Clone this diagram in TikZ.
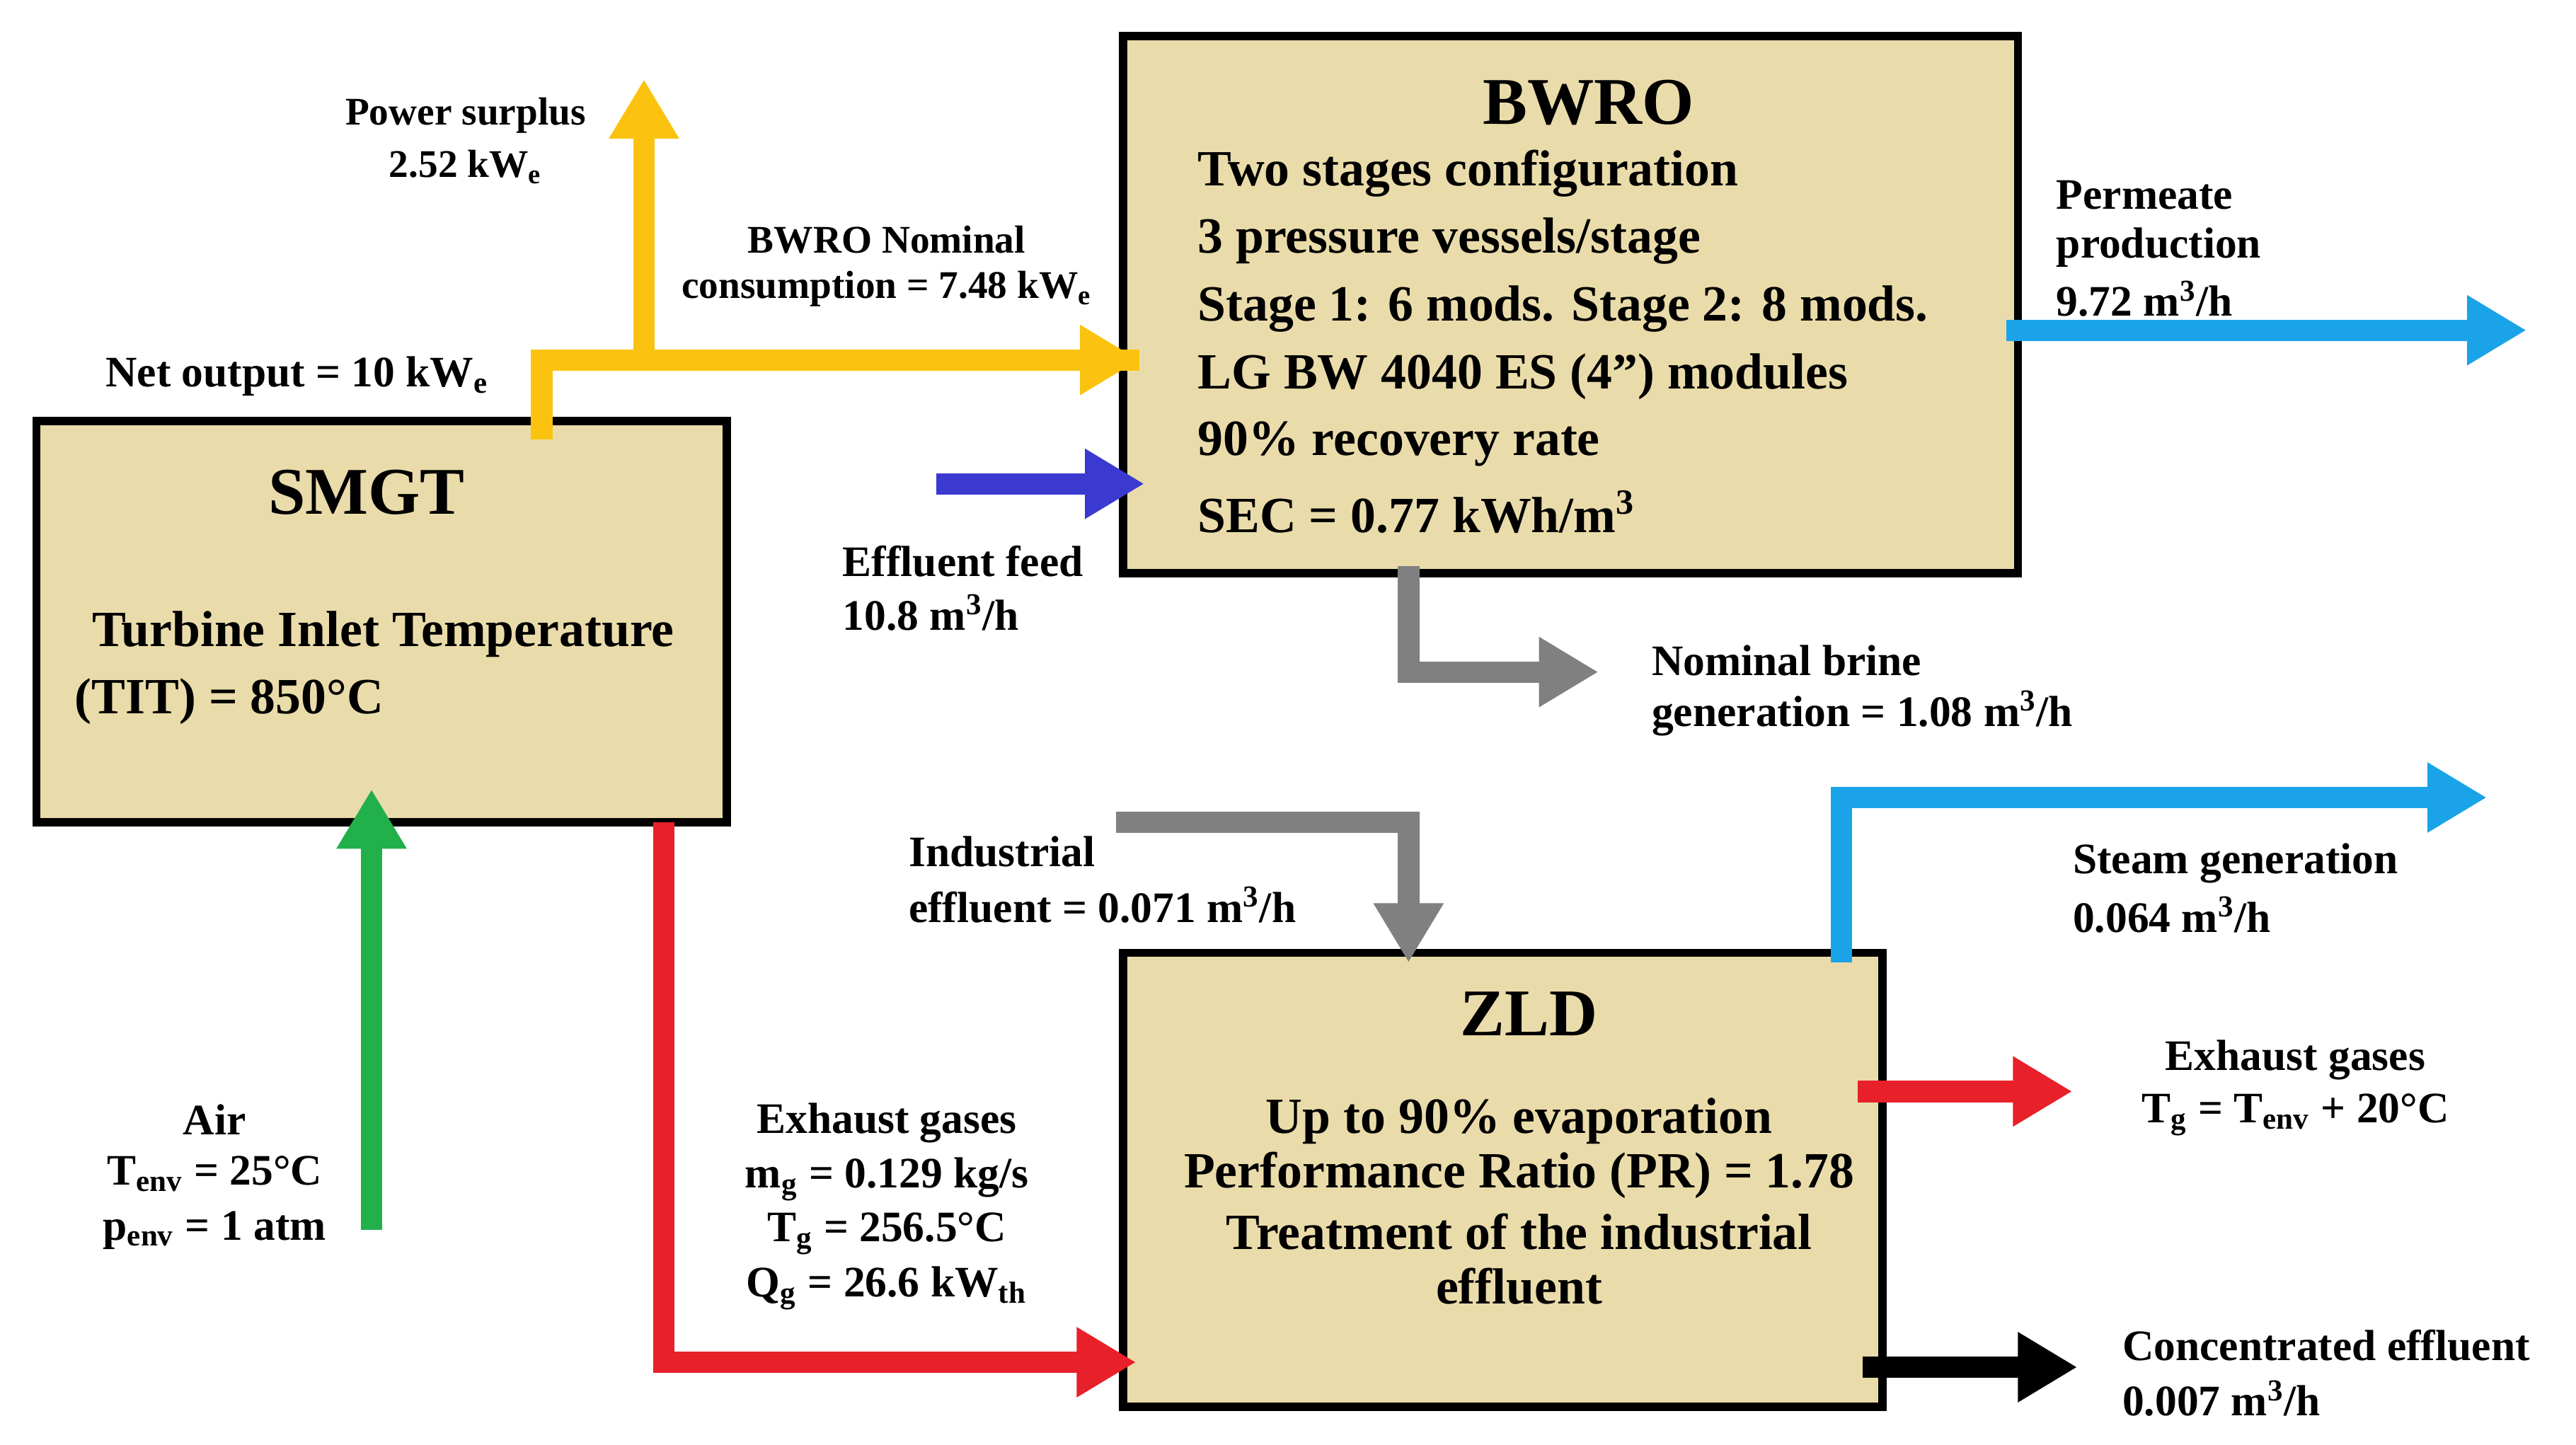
\documentclass[tikz,border=0pt]{standalone}
\usepackage{fontspec}
\setmainfont{Liberation Serif}
\usetikzlibrary{arrows.meta}
\definecolor{boxf}{HTML}{EADCAA}
\definecolor{yel}{HTML}{FBC30F}
\definecolor{rd}{HTML}{E8202A}
\definecolor{gr}{HTML}{22B04B}
\definecolor{bl}{HTML}{3A3AD0}
\definecolor{gy}{HTML}{808080}
\definecolor{lb}{HTML}{1AA3E8}
\begin{document}
\begin{tikzpicture}[x=0.02cm,y=-0.02cm,
  box/.style={draw=black,line width=0.1cm,fill=boxf},
  flow/.style={line width=0.26cm,line join=miter,-{Triangle[length=0.72cm,width=0.8cm]}},
  lab/.style={font=\bfseries\fontsize{15}{18}\selectfont,inner sep=0pt},
  sml/.style={font=\bfseries\fontsize{13.5}{16}\selectfont,inner sep=0pt},
  btx/.style={font=\bfseries\fontsize{17.5}{21}\selectfont,inner sep=0pt},
  ttl/.style={font=\bfseries\fontsize{23}{27}\selectfont,inner sep=0pt}]
\useasboundingbox (0,0) rectangle (1560,875);
% boxes
\draw[box] (22,255) rectangle (440,498);
\draw[box] (680,22) rectangle (1222,347);
\draw[box] (680,577) rectangle (1140,852);
\node[ttl] (smgt) at (222,298) {SMGT};
\node[btx] at (232,384) {Turbine Inlet Temperature};
\node[btx,anchor=west] at (45,425) {(TIT) = 850°C};
\node[ttl] (bwro) at (962,62) {BWRO};
\foreach \t [count=\i] in {Two stages configuration,3 pressure vessels/stage,Stage 1: 6 mods. Stage 2: 8 mods.,LG BW 4040 ES (4") modules,90\% recovery rate,SEC = 0.77 kWh/m\textsuperscript{3}}
  \node[btx,anchor=west] at (725,64+41*\i) {\t};
\node[ttl] (zld) at (926,614) {ZLD};
\node[btx] at (920,679) {Up to 90\% evaporation};
\node[btx] at (920,712) {Performance Ratio (PR) = 1.78};
\node[btx] at (920,746) {Treatment of the industrial};
\node[btx] at (920,779) {effluent};
% coordinates
\coordinate (y0) at (328,266); \coordinate (y1) at (328,218); \coordinate (y2) at (690,218);
\coordinate (yb) at (390,218); \coordinate (ye) at (390,48);
\coordinate (r0) at (402,498); \coordinate (r1) at (402,825); \coordinate (r2) at (688,825);
\coordinate (g0) at (225,745); \coordinate (g1) at (225,478);
\coordinate (b0) at (567,293); \coordinate (b1) at (693,293);
\coordinate (k0) at (853,343); \coordinate (k1) at (853,407); \coordinate (k2) at (968,407);
\coordinate (i0) at (676,498); \coordinate (i1) at (853,498); \coordinate (i2) at (853,583);
\coordinate (p0) at (1215,200); \coordinate (p1) at (1530,200);
\coordinate (s0) at (1115,583); \coordinate (s1) at (1115,483); \coordinate (s2) at (1506,483);
\coordinate (e0) at (1125,661); \coordinate (e1) at (1255,661);
\coordinate (c0) at (1128,828); \coordinate (c1) at (1258,828);
% flows
\draw[flow,yel,-] (y0) -- (y1) -- (y2);
\draw[flow,yel] (y1) -- (y2);
\draw[flow,yel] (yb) -- (ye);
\draw[flow,rd] (r0) -- (r1) -- (r2);
\draw[flow,gr] (g0) -- (g1);
\draw[flow,bl] (b0) -- (b1);
\draw[flow,gy] (k0) -- (k1) -- (k2);
\draw[flow,gy] (i0) -- (i1) -- (i2);
\draw[flow,lb] (p0) -- (p1);
\draw[flow,lb] (s0) -- (s1) -- (s2);
\draw[flow,rd] (e0) -- (e1);
\draw[flow,black] (c0) -- (c1);
% labels
\node[sml] (l1) at (282,70) {Power surplus};
\node[sml] (l2) at (282,101) {2.52 kW\textsubscript{e}};
\node[sml] (l3) at (537,145) {BWRO Nominal};
\node[sml] (l4) at (537,175) {consumption = 7.48 kW\textsubscript{e}};
\node[lab] (l5) at (180,228) {Net output = 10 kW\textsubscript{e}};
\node[lab,anchor=west] (l6) at (510,340) {Effluent feed};
\node[lab,anchor=west] (l7) at (510,371) {10.8 m\textsuperscript{3}/h};
\node[lab,anchor=west] (l8) at (1245,118) {Permeate};
\node[lab,anchor=west] (l9) at (1245,150) {production};
\node[lab,anchor=west] (l10) at (1245,181) {9.72 m\textsuperscript{3}/h};
\node[lab,anchor=west] (l11) at (1000,400) {Nominal brine};
\node[lab,anchor=west] (l12) at (1000,432) {generation = 1.08 m\textsuperscript{3}/h};
\node[lab,anchor=west] (l13) at (550,516) {Industrial};
\node[lab,anchor=west] (l14) at (550,548) {effluent = 0.071 m\textsuperscript{3}/h};
\node[lab,anchor=west] (l15) at (1255,523) {Steam generation};
\node[lab,anchor=west] (l16) at (1255,554) {0.064 m\textsuperscript{3}/h};
\node[lab] (l17) at (1390,642) {Exhaust gases};
\node[lab] (l18) at (1390,675) {T\textsubscript{g} = T\textsubscript{env} + 20°C};
\node[lab,anchor=west] (l19) at (1285,815) {Concentrated effluent};
\node[lab,anchor=west] (l20) at (1285,847) {0.007 m\textsuperscript{3}/h};
\node[lab] (l21) at (130,678) {Air};
\node[lab] (l22) at (130,711) {T\textsubscript{env} = 25°C};
\node[lab] (l23) at (130,745) {p\textsubscript{env} = 1 atm};
\node[lab] (l24) at (537,680) {Exhaust gases};
\node[lab] (l25) at (537,714) {m\textsubscript{g} = 0.129 kg/s};
\node[lab] (l26) at (537,747) {T\textsubscript{g} = 256.5°C};
\node[lab] (l27) at (537,780) {Q\textsubscript{g} = 26.6 kW\textsubscript{th}};
\end{tikzpicture}
\end{document}
